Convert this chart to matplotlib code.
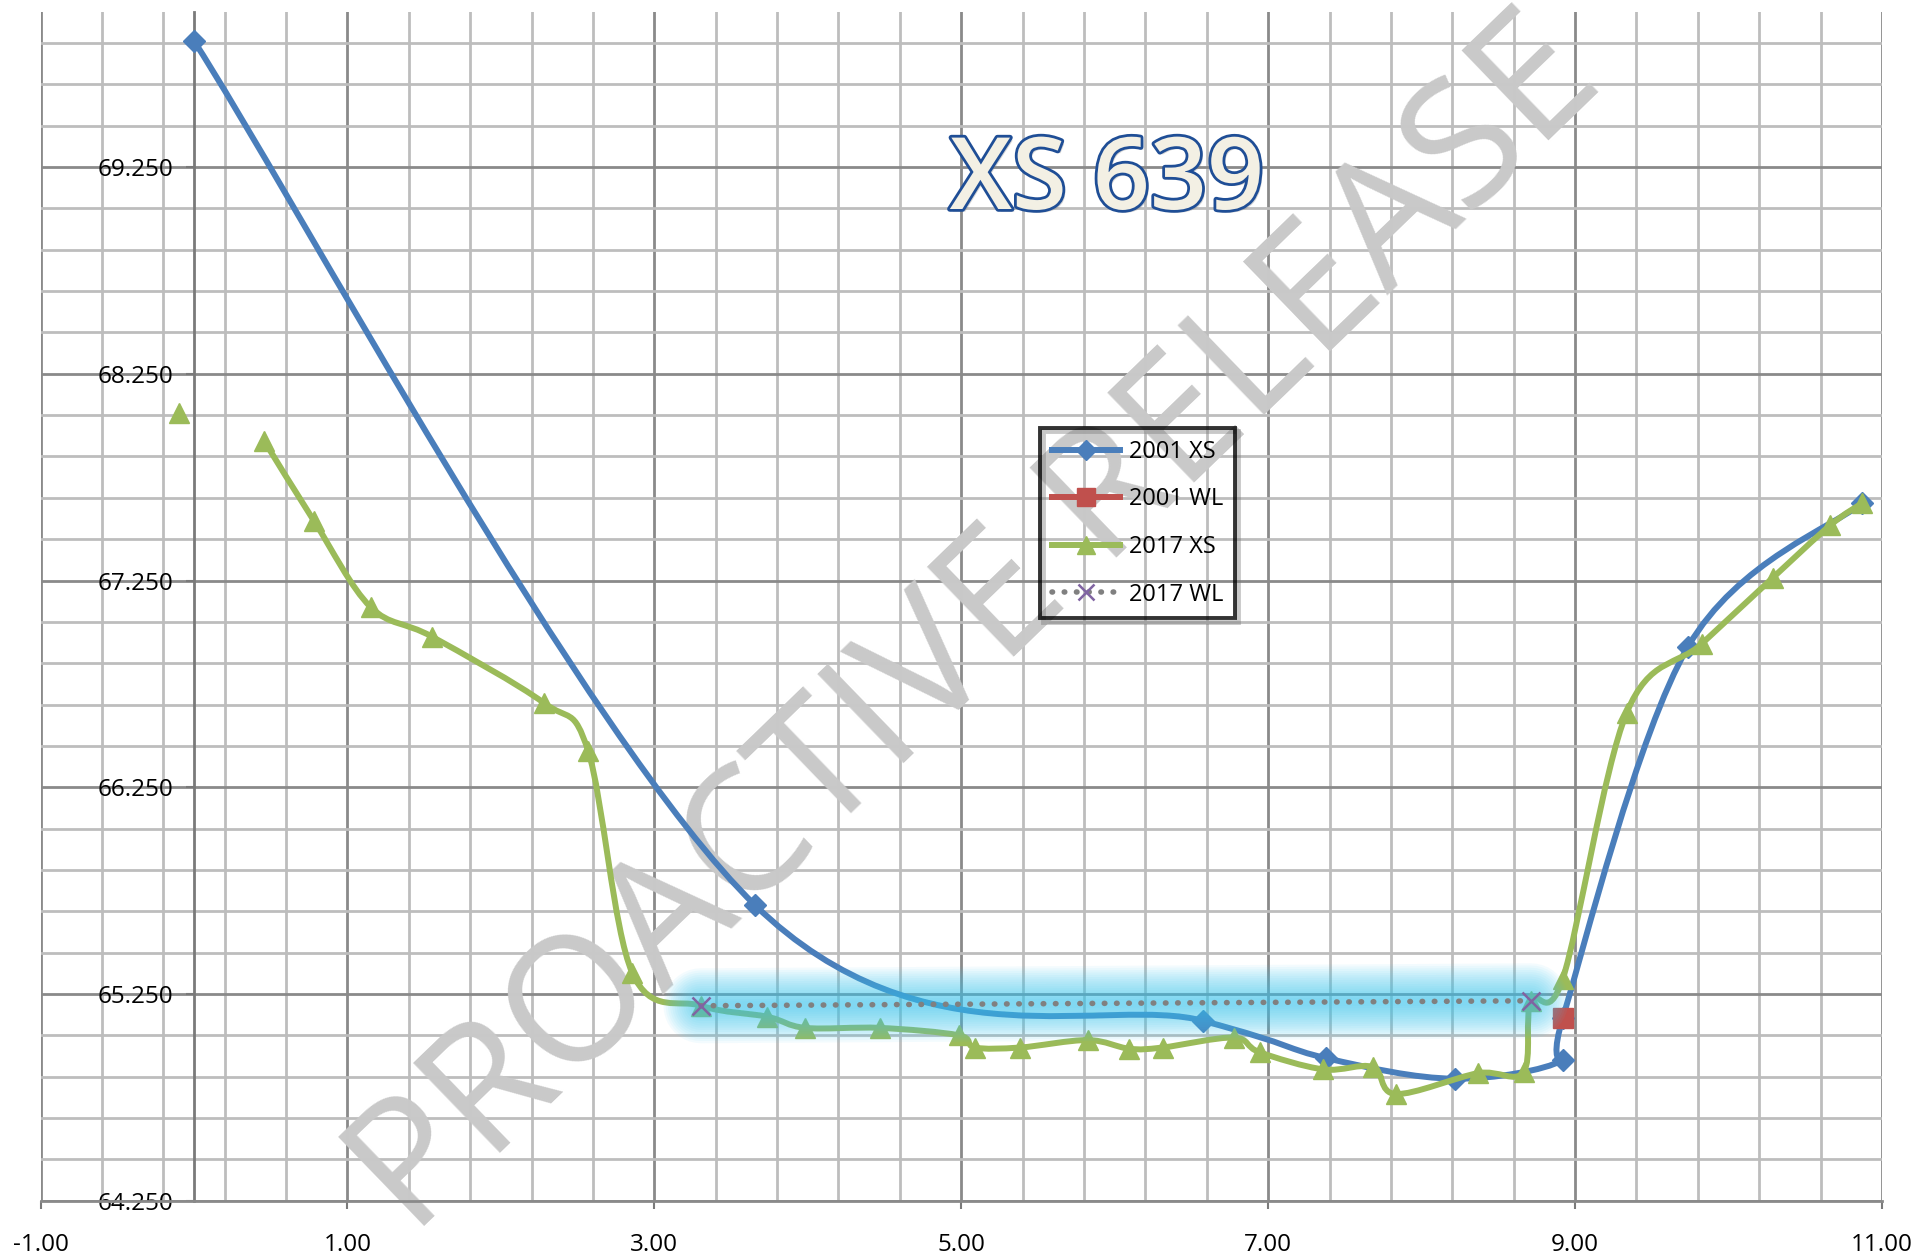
import numpy as np
import matplotlib
matplotlib.use("Agg")
import matplotlib.pyplot as plt
import matplotlib.patheffects as pe
from matplotlib.path import Path
from matplotlib.patches import PathPatch
from matplotlib.lines import Line2D
from matplotlib.ticker import MultipleLocator, FormatStrFormatter

plt.rcParams["font.family"] = ["Open Sans", "DejaVu Sans"]

# 2001 cross-section (station, elevation)
xs01_x = [0.0, 3.656, 6.576, 7.376, 8.216, 8.92, 8.92, 9.736, 10.872]
xs01_y = [69.86, 65.68, 65.12, 64.94, 64.84, 64.93, 65.134, 66.93, 67.625]

# 2001 water level
wl01_x = [8.92]
wl01_y = [65.134]

# 2017 cross-section; first point stands alone (gap after it)
xs17_first_x = [-0.096]
xs17_first_y = [68.06]
xs17_x = [0.456, 0.784, 1.152, 1.552, 2.28, 2.568, 2.856, 3.304, 3.736, 3.984,
          4.472, 4.984, 5.088, 5.384, 5.824, 6.096, 6.312, 6.776, 6.944, 7.36,
          7.68, 7.832, 8.368, 8.664, 8.712, 8.92, 9.336, 9.824, 10.288, 10.664,
          10.872]
xs17_y = [67.927, 67.536, 67.121, 66.978, 66.658, 66.427, 65.353, 65.193, 65.14, 65.086,
          65.086, 65.05, 64.991, 64.991, 65.027, 64.985, 64.991, 65.039, 64.968, 64.885,
          64.897, 64.766, 64.867, 64.873, 65.217, 65.324, 66.61, 66.943, 67.263, 67.518,
          67.625]

# 2017 water level
wl17_x = [3.304, 8.712]
wl17_y = [65.193, 65.217]

BLUE = "#4a7ebb"
RED = "#c0504d"
GREEN = "#9bbb59"
PURPLE = "#8064a2"
GRAY = "#808080"
LW = 4.3


def smooth_path(xs, ys):
    # Excel-style smoothed line: cubic Bezier through every point
    pts = np.column_stack([xs, ys])
    n = len(pts)
    verts = [pts[0]]
    codes = [Path.MOVETO]
    for i in range(n - 1):
        p0 = pts[i - 1] if i > 0 else pts[i]
        p1, p2 = pts[i], pts[i + 1]
        p3 = pts[i + 2] if i + 2 < n else pts[i + 1]
        verts += [p1 + (p2 - p0) / 6, p2 - (p3 - p1) / 6, p2]
        codes += [Path.CURVE4] * 3
    return Path(verts, codes)


fig = plt.figure(figsize=(19.25, 12.6), dpi=100)
ax = fig.add_axes([40.5 / 1925, 59.3 / 1260, 1841.5 / 1925, 1188.7 / 1260])
ax.set_xlim(-1, 11)
ax.set_ylim(64.25, 70.0)

ax.xaxis.set_major_locator(MultipleLocator(2, offset=1))
ax.xaxis.set_minor_locator(MultipleLocator(0.4, offset=0.2))
ax.yaxis.set_major_locator(MultipleLocator(1, offset=0.25))
ax.yaxis.set_minor_locator(MultipleLocator(0.2, offset=0.05))
ax.xaxis.set_major_formatter(FormatStrFormatter("%.2f"))
ax.yaxis.set_major_formatter(FormatStrFormatter("%.3f"))

ax.set_axisbelow(True)
ax.grid(which="major", color="#8a8a8a", linewidth=2.0)
ax.grid(which="minor", color="#bdbdbd", linewidth=2.0)

for s in ["top", "right"]:
    ax.spines[s].set_visible(False)
ax.spines["left"].set_position(("data", 0))
ax.spines["left"].set_color("#7a7a7a")
ax.spines["left"].set_linewidth(2.0)
ax.spines["bottom"].set_color("#8a8a8a")
ax.spines["bottom"].set_linewidth(2.0)
ax.tick_params(which="minor", length=0)
ax.tick_params(axis="y", which="major", direction="out", length=6, width=1.5,
               color="#7a7a7a", pad=9, labelsize=17.5)
ax.tick_params(axis="x", which="major", direction="out", length=6, width=1.5,
               color="#7a7a7a", pad=17, labelsize=17.5)

# watermark: above the grid, under the data lines
ax.text(978 / 1925, 1 - 628 / 1260, "PROACTIVE RELEASE", fontsize=126,
        color="#c9c9c9", rotation=44, rotation_mode="anchor",
        ha="center", va="center", transform=fig.transFigure,
        clip_on=False, zorder=1.5)

# 2001 XS
ax.add_patch(PathPatch(smooth_path(xs01_x, xs01_y), fill=False, edgecolor=BLUE,
                       linewidth=LW, zorder=3, capstyle="round", joinstyle="round"))
ax.plot(xs01_x, xs01_y, linestyle="none", marker="D", markersize=11,
        color=BLUE, zorder=3.1)

# 2001 WL
ax.plot(wl01_x, wl01_y, linestyle="none", marker="s", markersize=14,
        color=RED, zorder=4)

# 2017 XS
ax.add_patch(PathPatch(smooth_path(xs17_x, xs17_y), fill=False, edgecolor=GREEN,
                       linewidth=LW, zorder=5, capstyle="round", joinstyle="round"))
ax.plot(xs17_x + xs17_first_x, xs17_y + xs17_first_y, linestyle="none", marker="^",
        markersize=14, color=GREEN, zorder=5.1)

# soft glow on the 2017 water level
for w in np.linspace(6, 54, 16):
    ax.plot(wl17_x, wl17_y, color="#3cc8f2", linewidth=w, alpha=0.06,
            solid_capstyle="round", zorder=5.5)

# 2017 WL
ax.plot(wl17_x, wl17_y, color=GRAY, linewidth=4.0, linestyle=(0, (0.1, 2.1)),
        dash_capstyle="round", zorder=6)
ax.plot(wl17_x, wl17_y, linestyle="none", marker="x", markersize=13,
        markeredgewidth=1.8, color=PURPLE, zorder=6.1)

# title
ax.text(1107 / 1925, 1 - 183 / 1260, "XS 639", fontsize=72, fontweight="semibold",
        color="#f3f0e4", ha="center", va="center", transform=fig.transFigure,
        zorder=10,
        path_effects=[pe.SimplePatchShadow(offset=(2, -2), shadow_rgbFace="#888888", alpha=0.35),
                      pe.Stroke(linewidth=4, foreground="#1f4e96"), pe.Normal()])

handles = [
    Line2D([], [], color=BLUE, linewidth=LW, marker="D", markersize=10),
    Line2D([], [], color=RED, linewidth=LW, marker="s", markersize=13),
    Line2D([], [], color=GREEN, linewidth=LW, marker="^", markersize=13),
    Line2D([], [], color=GRAY, linewidth=4.0, linestyle=(0, (0.1, 2.1)),
           dash_capstyle="round", marker="x", markersize=12,
           markeredgecolor=PURPLE, markeredgewidth=1.8),
]
labels = ["2001 XS", "2001 WL", "2017 XS", "2017 WL"]
leg = ax.legend(handles, labels, loc="upper left",
                bbox_to_anchor=(1040 / 1925, 1 - 428 / 1260),
                bbox_transform=fig.transFigure, fontsize=17, frameon=True,
                fancybox=False, handlelength=2.9, handletextpad=0.35,
                labelspacing=1.0, borderpad=0.5, borderaxespad=0)
frame = leg.get_frame()
frame.set_facecolor("none")
frame.set_edgecolor("black")
frame.set_linewidth(2.8)
frame.set_path_effects([pe.SimpleLineShadow(offset=(2.5, -2.5), shadow_color="#777777",
                                            alpha=0.4, linewidth=3.5), pe.Normal()])
leg.set_zorder(20)

fig.savefig("out.png", dpi=100)
